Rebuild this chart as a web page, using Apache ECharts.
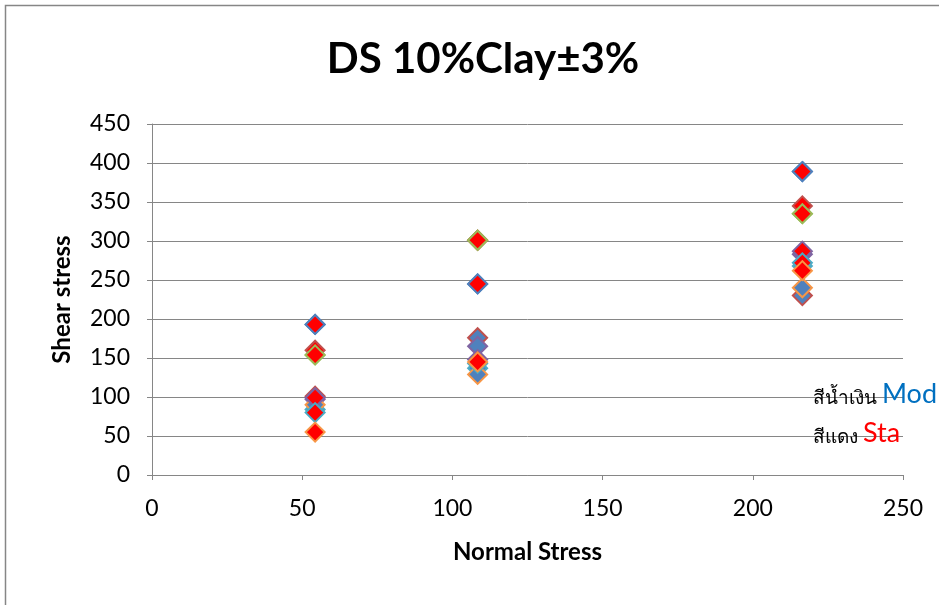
<!DOCTYPE html>
<html>
<head>
<meta charset="utf-8">
<script src="https://cdn.jsdelivr.net/npm/echarts@6/dist/echarts.min.js"></script>
<style>
  html, body { margin: 0; padding: 0; background: #ffffff; }
  #chart { width: 939px; height: 605px; }
</style>
</head>
<body>
<div id="chart"></div>
<script>
// Normal stress levels (x) shared by every test series
const normalStress = [54.3, 108.4, 216.5];

// Shear stress, modified tests (blue fill)
const modBlue   = [193, 245, 389];
const modRed    = [101, 176, 230];
const modGreen  = [154, 301, 335];
const modPurple = [97, 165, 283];
const modAqua   = [84, 137, 268];
const modOrange = [90, 129, 240];

// Shear stress, standard tests (red fill)
const staBlue   = [193, 245, 389];
const staRed    = [160, 301, 345];
const staGreen  = [154, 301, 335];
const staPurple = [99, 148, 287];
const staAqua   = [80, 143, 272];
const staOrange = [55, 145, 262];

const yTicks = [0, 50, 100, 150, 200, 250, 300, 350, 400, 450];
const xTicks = [0, 50, 100, 150, 200, 250];

const edgeColors = ['#4F81BD', '#C0504D', '#9BBB59', '#8064A2', '#4BACC6', '#F79646'];
const modSets = [modBlue, modRed, modGreen, modPurple, modAqua, modOrange];
const staSets = [staBlue, staRed, staGreen, staPurple, staAqua, staOrange];

const latin = 'Lato, "Open Sans", "Noto Sans", sans-serif';

function makeSeries(name, values, fill, edge) {
  return {
    name: name,
    type: 'scatter',
    symbol: 'diamond',
    symbolSize: 19,
    data: values.map((v, i) => [normalStress[i], v]),
    itemStyle: { color: fill, borderColor: edge, borderWidth: 2, opacity: 1 },
    emphasis: { disabled: true },
    animation: false
  };
}

const series = [];
modSets.forEach((vals, i) => series.push(makeSeries('Mod ' + (i + 1), vals, '#4F81BD', edgeColors[i])));
staSets.forEach((vals, i) => series.push(makeSeries('Sta ' + (i + 1), vals, '#FF0000', edgeColors[i])));

const chart = echarts.init(document.getElementById('chart'), null, { renderer: 'canvas' });
chart.setOption({
  backgroundColor: '#ffffff',
  animation: false,
  title: {
    text: 'DS 10%Clay\u00B13%',
    left: 478,
    top: 33,
    textAlign: 'center',
    textStyle: { fontFamily: latin, fontWeight: 'bold', fontSize: 42, color: '#000000' }
  },
  grid: { left: 152, right: 36, top: 124, bottom: 130, containLabel: false },
  xAxis: {
    type: 'value',
    min: xTicks[0],
    max: xTicks[xTicks.length - 1],
    interval: 50,
    name: 'Normal Stress',
    nameLocation: 'middle',
    nameGap: 65,
    nameTextStyle: { fontFamily: latin, fontWeight: 'bold', fontSize: 24, color: '#000000' },
    axisLine: { show: true, lineStyle: { color: '#868686', width: 1 } },
    axisTick: { show: true, length: 5, lineStyle: { color: '#868686' } },
    axisLabel: { fontFamily: latin, fontSize: 23, color: '#000000', margin: 22 },
    splitLine: { show: false }
  },
  yAxis: {
    type: 'value',
    min: yTicks[0],
    max: yTicks[yTicks.length - 1],
    interval: 50,
    name: 'Shear stress',
    nameLocation: 'middle',
    nameGap: 78,
    nameRotate: 90,
    nameTextStyle: { fontFamily: latin, fontWeight: 'bold', fontSize: 24, color: '#000000' },
    axisLine: { show: true, lineStyle: { color: '#868686', width: 1 } },
    axisTick: { show: true, length: 5, lineStyle: { color: '#868686' } },
    axisLabel: { fontFamily: latin, fontSize: 23, color: '#000000', margin: 22 },
    splitLine: { show: true, lineStyle: { color: '#868686', width: 1 } }
  },
  series: series,
  graphic: [
    {
      type: 'polyline',
      z: 100,
      silent: true,
      shape: { points: [[5.5, 640], [5.5, 5.5], [960, 5.5]] },
      style: { stroke: '#868686', lineWidth: 1.5, fill: null }
    },
    {
      type: 'text',
      z: 100,
      left: 813,
      top: 381,
      silent: true,
      style: {
        text: '{th|สีน้ำเงิน }{mod|Mod}',
        rich: {
          th: { fontSize: 19, fontFamily: '"Noto Sans", "DejaVu Sans", sans-serif', fill: '#000000', verticalAlign: 'bottom' },
          mod: { fontSize: 27, fontFamily: latin, fill: '#0070C0', verticalAlign: 'bottom' }
        }
      }
    },
    {
      type: 'text',
      z: 100,
      left: 813,
      top: 420,
      silent: true,
      style: {
        text: '{th|สีแดง }{sta|Sta}',
        rich: {
          th: { fontSize: 19, fontFamily: '"Noto Sans", "DejaVu Sans", sans-serif', fill: '#000000', verticalAlign: 'bottom' },
          sta: { fontSize: 27, fontFamily: latin, fill: '#FF0000', verticalAlign: 'bottom' }
        }
      }
    }
  ]
});
</script>
</body>
</html>
